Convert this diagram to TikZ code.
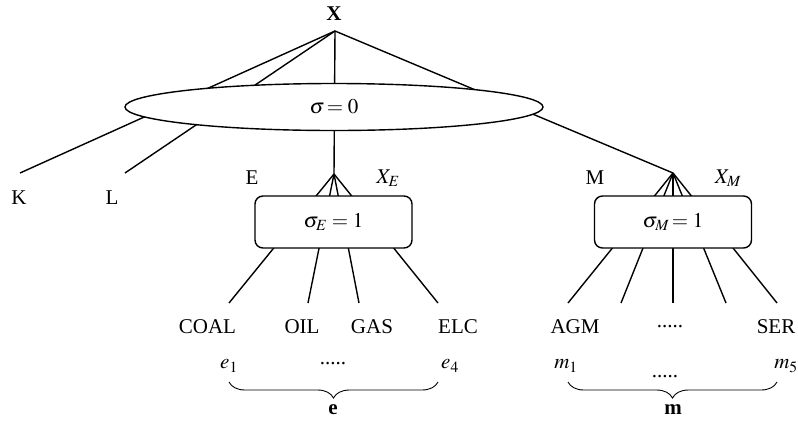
\documentclass[tikz,border=0pt]{standalone}
\usepackage{mathptmx}
\usepackage{fontspec}
\setmainfont{Liberation Serif}
\usepackage{tikz}
\usetikzlibrary{shapes.geometric,positioning,calc,decorations.pathreplacing}

\begin{document}
\begin{tikzpicture}[x=1pt, y=-1pt, line width=1.4pt, font=\fontsize{21}{25}\selectfont,
    nest/.style={draw, fill=white, rounded corners=8pt, minimum width=157pt, minimum height=52pt, inner sep=0pt},
    accolade/.style={decorate, decoration={brace, mirror, amplitude=16pt}, line width=0.9pt}]
    \useasboundingbox (0,0) rectangle (798,421);

    % Points de jonction
    \node[font=\fontsize{21}{25}\selectfont\bfseries] (X) at (334,14) {X};
    \coordinate (top) at (335,31);
    \coordinate (kend) at (20,173);
    \coordinate (lend) at (125,173);
    \coordinate (ej) at (334,174);
    \coordinate (mj) at (673,173);

    % Branches du niveau superieur
    \foreach \bout in {kend, lend, ej, mj} {
        \draw (top) -- (\bout);
    }

    % Feuilles
    \foreach \nom/\x in {c1/229, c2/308, c3/359, c4/438, d1/568, d2/621, d3/673, d4/726, d5/777} {
        \coordinate (\nom) at (\x,303);
    }
    \foreach \nom in {c1, c2, c3, c4} { \draw (ej) -- (\nom); }
    \foreach \nom in {d1, d2, d3, d4, d5} { \draw (mj) -- (\nom); }

    % Nids CES
    \node[ellipse, draw, fill=white, minimum width=418pt, minimum height=47pt, inner sep=0pt] (sig) at (334,107) {$\sigma\!= 0$};
    \node[nest] (boxE) at (333.5,222) {$\sigma_E = 1$};
    \node[nest] (boxM) at (673,222) {$\sigma_M\!= 1$};

    % Etiquettes
    \node (K) at (19,198) {K};
    \node (L) at (112,198) {L};
    \node (E) at (252,178) {E};
    \node (XE) at (388,178) {$X_E$};
    \node (M) at (595,178) {M};
    \node (XM) at (728,178) {$X_M$};

    \node (coal) at (207.5,327) {COAL};
    \node (oil) at (302,327) {OIL};
    \node (gas) at (372,327) {GAS};
    \node (elc) at (458,327) {ELC};
    \node (agm) at (575,327) {AGM};
    \node (mdots) at (670,327) {.....};
    \node (ser) at (776,327) {SER};

    \node (e1) at (229,366) {$e_1$};
    \node (edots) at (333,364) {.....};
    \node (e4) at (450,366) {$e_4$};
    \node (m1) at (566,366) {$m_1$};
    \node (mmid) at (665,377) {.....};
    \node (m5) at (786,366) {$m_5$};

    % Accolades
    \coordinate (ea) at (229,382);
    \coordinate (eb) at (438,382);
    \coordinate (ma) at (568,382);
    \coordinate (mb) at (777,382);
    \draw[accolade] (ea) -- (eb);
    \draw[accolade] (ma) -- (mb);
    \node[font=\fontsize{21}{25}\selectfont\bfseries] (ev) at (333,410) {e};
    \node[font=\fontsize{21}{25}\selectfont\bfseries] (mv) at (673,410) {m};
\end{tikzpicture}
\end{document}
